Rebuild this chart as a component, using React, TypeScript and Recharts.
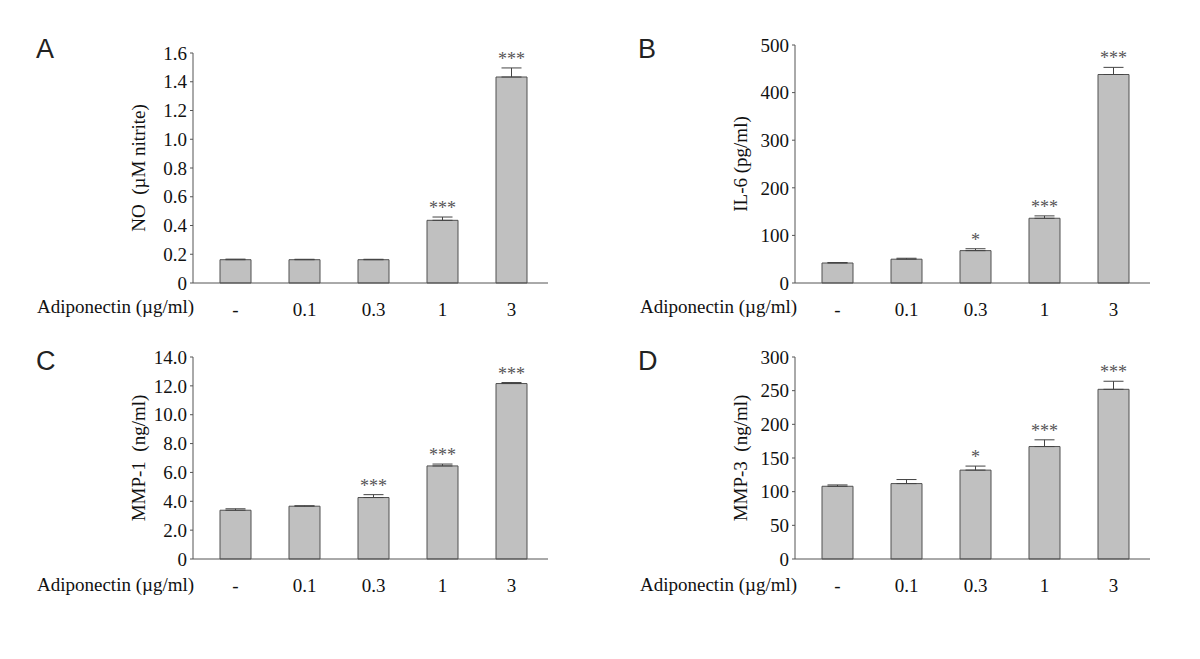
import {
  ComposedChart,
  Bar,
  Line,
  ErrorBar,
  LabelList,
  XAxis,
  YAxis,
} from "recharts";

// Adiponectin doses on the x axis
const doses = ["-", "0.1", "0.3", "1", "3"];

// A: NO (µM nitrite)
const noMeans = [0.162, 0.162, 0.162, 0.436, 1.433];
const noErrors = [0.004, 0.003, 0.003, 0.023, 0.063];
const noStars = ["", "", "", "***", "***"];
const noTicks = [0, 0.2, 0.4, 0.6, 0.8, 1.0, 1.2, 1.4, 1.6];

// B: IL-6 (pg/ml)
const il6Means = [42, 50, 68, 136, 438];
const il6Errors = [1, 2, 4, 5, 15];
const il6Stars = ["", "", "*", "***", "***"];
const il6Ticks = [0, 100, 200, 300, 400, 500];

// C: MMP-1 (ng/ml)
const mmp1Means = [3.38, 3.66, 4.26, 6.45, 12.16];
const mmp1Errors = [0.1, 0.03, 0.2, 0.13, 0.07];
const mmp1Stars = ["", "", "***", "***", "***"];
const mmp1Ticks = [0, 2, 4, 6, 8, 10, 12, 14];

// D: MMP-3 (ng/ml)
const mmp3Means = [108, 112, 132, 167, 252];
const mmp3Errors = [2, 6, 6, 10, 12];
const mmp3Stars = ["", "", "*", "***", "***"];
const mmp3Ticks = [0, 50, 100, 150, 200, 250, 300];

const SERIF = '"Liberation Serif", "Times New Roman", serif';
const SANS = '"Liberation Sans", Arial, sans-serif';
const AXIS = "#555";
const FS = 19;

function buildRows(means: number[], errors: number[], stars: string[]) {
  return doses.map((dose, i) => ({
    dose,
    value: means[i],
    err: [0, errors[i]],
    top: means[i] + errors[i],
    star: stars[i],
  }));
}

interface PanelProps {
  left: number;
  top: number;
  marginTop: number;
  marginBottom: number;
  rows: ReturnType<typeof buildRows>;
  ticks: number[];
  format: (v: number) => string;
}

function Panel({ left, top, marginTop, marginBottom, rows, ticks, format }: PanelProps) {
  return (
    <div style={{ position: "absolute", left, top }}>
      <ComposedChart
        width={600}
        height={330}
        data={rows}
        margin={{ top: marginTop, right: 52, bottom: marginBottom, left: 133 }}
      >
        <XAxis
          dataKey="dose"
          interval={0}
          tickLine={false}
          tickMargin={14}
          height={30}
          padding={{ left: 8, right: 2 }}
          axisLine={{ stroke: AXIS }}
          tick={{ fontSize: FS, fontFamily: SERIF, fill: "#111" }}
        />
        <YAxis
          width={60}
          domain={[0, ticks[ticks.length - 1]]}
          ticks={ticks}
          interval={0}
          tickSize={3}
          tickMargin={3}
          tickFormatter={format}
          axisLine={{ stroke: AXIS }}
          tickLine={{ stroke: AXIS }}
          tick={{ fontSize: FS, fontFamily: SERIF, fill: "#111" }}
        />
        <Bar
          dataKey="value"
          barSize={31}
          fill="#c0c0c0"
          stroke="#505050"
          strokeWidth={1}
          isAnimationActive={false}
        >
          <ErrorBar dataKey="err" width={10} stroke="#444" strokeWidth={1} />
        </Bar>
        <Line
          dataKey="top"
          stroke="none"
          dot={false}
          activeDot={false}
          legendType="none"
          isAnimationActive={false}
        >
          <LabelList
            dataKey="star"
            position="top"
            offset={3}
            fill="#555"
            fontSize={18}
            fontFamily={SERIF}
          />
        </Line>
      </ComposedChart>
    </div>
  );
}

const oneDecimal = (v: number) => (v === 0 ? "0" : v.toFixed(1));
const whole = (v: number) => String(v);

export default function App() {
  return (
    <div
      style={{
        position: "absolute",
        left: 0,
        top: 0,
        width: 1200,
        height: 659,
        background: "#fff",
        overflow: "hidden",
      }}
    >
      <Panel left={0} top={0} marginTop={53} marginBottom={17}
        rows={buildRows(noMeans, noErrors, noStars)} ticks={noTicks} format={oneDecimal} />
      <Panel left={602} top={0} marginTop={45} marginBottom={17}
        rows={buildRows(il6Means, il6Errors, il6Stars)} ticks={il6Ticks} format={whole} />
      <Panel left={0} top={300} marginTop={57} marginBottom={41}
        rows={buildRows(mmp1Means, mmp1Errors, mmp1Stars)} ticks={mmp1Ticks} format={oneDecimal} />
      <Panel left={602} top={300} marginTop={57} marginBottom={41}
        rows={buildRows(mmp3Means, mmp3Errors, mmp3Stars)} ticks={mmp3Ticks} format={whole} />

      <svg
        width={1200}
        height={659}
        style={{ position: "absolute", left: 0, top: 0, pointerEvents: "none" }}
      >
        <g fontFamily={SANS} fontSize={27} fill="#222">
          <text x={36} y={58}>A</text>
          <text x={638} y={58}>B</text>
          <text x={36} y={370}>C</text>
          <text x={638} y={370}>D</text>
        </g>
        <g fontFamily={SERIF} fontSize={FS} fill="#111">
          <text x={37} y={313}>Adiponectin (µg/ml)</text>
          <text x={640} y={313}>Adiponectin (µg/ml)</text>
          <text x={37} y={591}>Adiponectin (µg/ml)</text>
          <text x={640} y={591}>Adiponectin (µg/ml)</text>
        </g>
        <g fontFamily={SERIF} fontSize={FS} fill="#111" textAnchor="middle">
          <text transform="translate(138,168) rotate(-90)" dy="0.35em">{"NO\u00a0 (µM nitrite)"}</text>
          <text transform="translate(740,164) rotate(-90)" dy="0.35em">IL-6 (pg/ml)</text>
          <text transform="translate(138,458) rotate(-90)" dy="0.35em">{"MMP-1\u00a0 (ng/ml)"}</text>
          <text transform="translate(740,458) rotate(-90)" dy="0.35em">{"MMP-3\u00a0 (ng/ml)"}</text>
        </g>
      </svg>
    </div>
  );
}
